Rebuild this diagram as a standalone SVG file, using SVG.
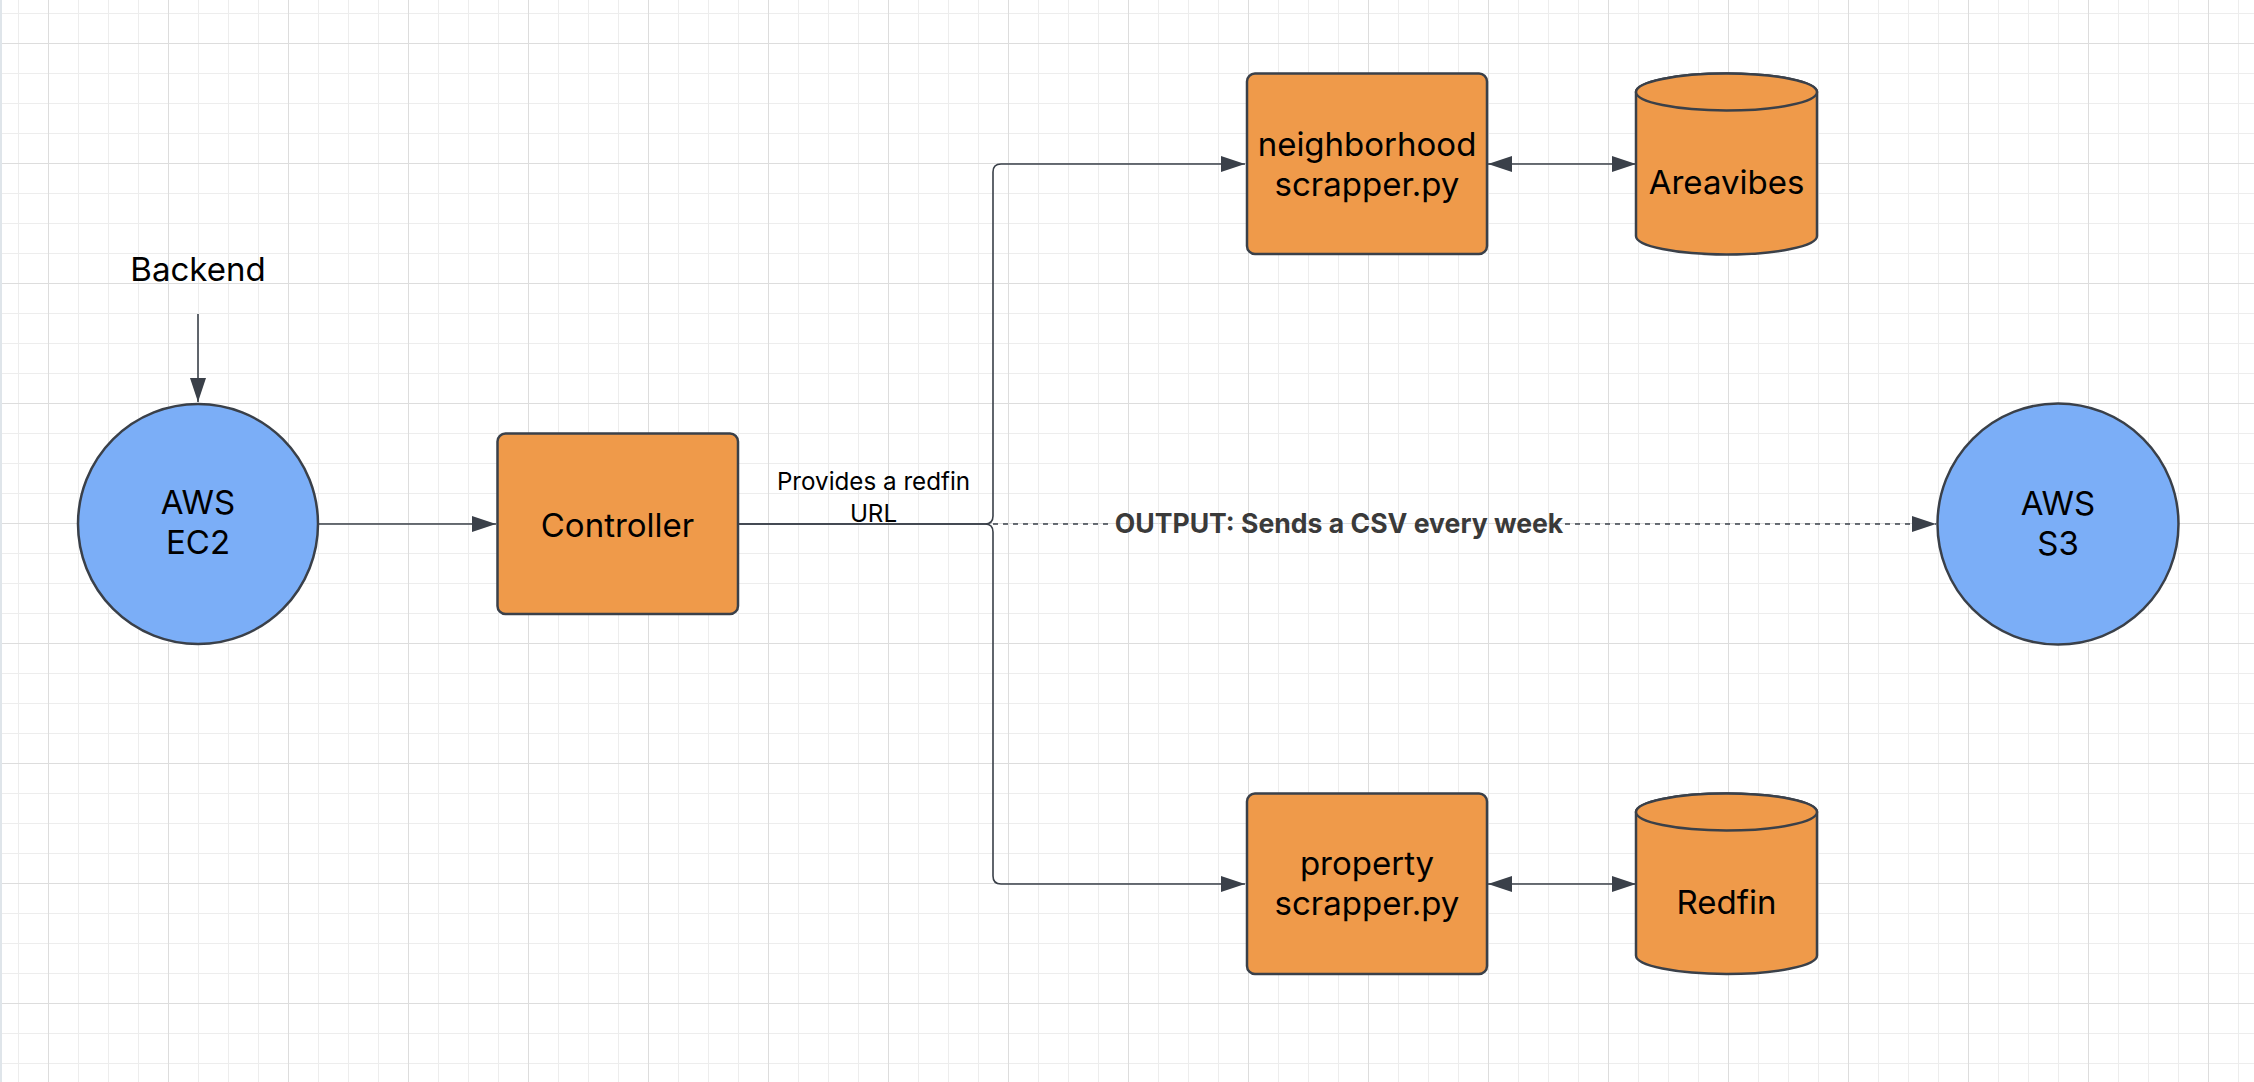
<svg xmlns="http://www.w3.org/2000/svg" width="2254" height="1082" viewBox="0 0 2254 1082">
  <defs>
    <pattern id="gridLight" patternUnits="userSpaceOnUse" x="18" y="13" width="30" height="30">
      <rect x="0" y="0" width="1" height="30" fill="#ededed"/>
      <rect x="0" y="0" width="30" height="1" fill="#ededed"/>
    </pattern>
    <pattern id="gridHeavy" patternUnits="userSpaceOnUse" x="48" y="43" width="120" height="120">
      <rect x="0" y="0" width="1" height="120" fill="#dddddd"/>
      <rect x="0" y="0" width="120" height="1" fill="#dddddd"/>
    </pattern>
    <marker id="arrow" markerUnits="userSpaceOnUse" markerWidth="24" markerHeight="16" refX="24" refY="8" orient="auto-start-reverse">
      <path d="M0,0 L24,8 L0,16 Z" fill="#3a4049"/>
    </marker>
    <style>
      .node { stroke: #3a4049; stroke-width: 2.5; }
      .orange { fill: #ef9a4a; }
      .blue { fill: #7baef7; }
      .label { font-family: "Inter", "Liberation Sans", sans-serif; font-size: 33px; fill: #000000; text-anchor: middle; }
      .elabel { font-family: "Inter", "Liberation Sans", sans-serif; font-size: 24.2px; fill: #000000; text-anchor: middle; }
      .olabel { font-family: "Inter", "Liberation Sans", sans-serif; font-size: 26.6px; font-weight: bold; fill: #3a3a3a; text-anchor: middle; }
      .conn { fill: none; stroke: #3a4049; stroke-width: 1.6; }
      .dashed { stroke-dasharray: 5 5; }
    </style>
  </defs>

  <rect x="0" y="0" width="2254" height="1082" fill="#ffffff"/>
  <rect x="0" y="0" width="2254" height="1082" fill="url(#gridLight)"/>
  <rect x="0" y="0" width="2254" height="1082" fill="url(#gridHeavy)"/>
  <rect x="0" y="0" width="2" height="1082" fill="#dfe5ea"/>

  <g id="connectors">
    <path class="conn" d="M198,314 V402" marker-end="url(#arrow)"/>
    <path class="conn" d="M319,524 H496" marker-end="url(#arrow)"/>
    <path class="conn" d="M739,524 H985 Q993,524 993,516 V172 Q993,164 1001,164 H1245" marker-end="url(#arrow)"/>
    <path class="conn" d="M739,524 H985 Q993,524 993,532 V876 Q993,884 1001,884 H1245" marker-end="url(#arrow)"/>
    <path class="conn dashed" d="M993,524 H1113"/>
    <path class="conn dashed" d="M1565,524 H1936" marker-end="url(#arrow)"/>
    <path class="conn" d="M1488,164 H1636" marker-start="url(#arrow)" marker-end="url(#arrow)"/>
    <path class="conn" d="M1488,884 H1636" marker-start="url(#arrow)" marker-end="url(#arrow)"/>
    <text class="elabel" x="873.5" y="490">Provides a redfin</text>
    <text class="elabel" x="873.5" y="521.5">URL</text>
    <text class="olabel" x="1339" y="532.5">OUTPUT: Sends a CSV every week</text>
  </g>

  <g id="backend">
    <text class="label" x="198" y="281">Backend</text>
  </g>

  <g id="aws-ec2">
    <circle class="node blue" cx="198" cy="524" r="120"/>
    <text class="label" x="198" y="514">AWS</text>
    <text class="label" x="198" y="554">EC2</text>
  </g>

  <g id="controller">
    <rect class="node orange" x="497.5" y="433.5" width="240.5" height="180.5" rx="8"/>
    <text class="label" x="617.5" y="537">Controller</text>
  </g>

  <g id="neighborhood-scrapper">
    <rect class="node orange" x="1247" y="73.5" width="240" height="180.5" rx="8"/>
    <text class="label" x="1367" y="156">neighborhood</text>
    <text class="label" x="1367" y="196">scrapper.py</text>
  </g>

  <g id="areavibes">
    <path class="node orange" d="M1636,92 A90.5,18.5 0 0 1 1817,92 V236 A90.5,18.5 0 0 1 1636,236 Z"/>
    <ellipse class="node orange" cx="1726.5" cy="92" rx="90.5" ry="18.5"/>
    <text class="label" x="1726.5" y="194">Areavibes</text>
  </g>

  <g id="property-scrapper">
    <rect class="node orange" x="1247" y="793.5" width="240" height="180.5" rx="8"/>
    <text class="label" x="1367" y="875">property</text>
    <text class="label" x="1367" y="915">scrapper.py</text>
  </g>

  <g id="redfin">
    <path class="node orange" d="M1636,812 A90.5,18.5 0 0 1 1817,812 V955.5 A90.5,18.5 0 0 1 1636,955.5 Z"/>
    <ellipse class="node orange" cx="1726.5" cy="812" rx="90.5" ry="18.5"/>
    <text class="label" x="1726.5" y="914">Redfin</text>
  </g>

  <g id="aws-s3">
    <circle class="node blue" cx="2058" cy="524" r="120.5"/>
    <text class="label" x="2058" y="514.5">AWS</text>
    <text class="label" x="2058" y="554.5">S3</text>
  </g>
</svg>
